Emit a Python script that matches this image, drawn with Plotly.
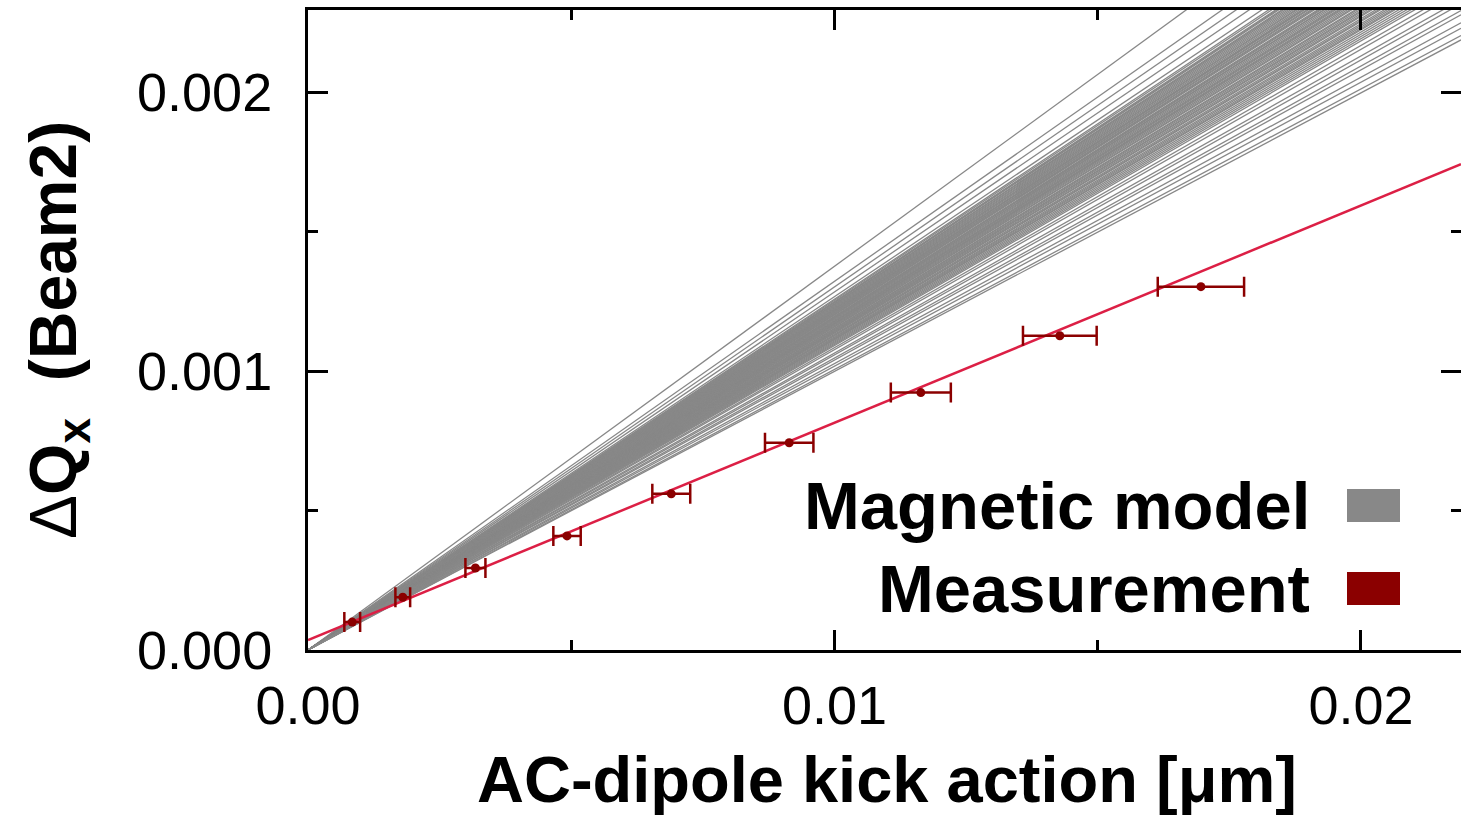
import plotly.graph_objects as go

# ---- data ----
meas_x = [0.00084, 0.00180, 0.00318, 0.00492, 0.00690, 0.00914, 0.01164, 0.01428, 0.01696]
meas_y = [0.000100, 0.000189, 0.000294, 0.000409, 0.000560, 0.000743, 0.000923, 0.001127, 0.001303]
meas_xerr = [0.00015, 0.00014, 0.00019, 0.00026, 0.00036, 0.00046, 0.00057, 0.00070, 0.00082]

fit_intercept = 0.0000359
fit_slope = 0.0779

model_slopes = [
    0.1376, 0.1322, 0.1302, 0.1284, 0.1267, 0.1258, 0.1254,
    0.1249, 0.1247, 0.1245, 0.1241, 0.1239, 0.1236, 0.1233, 0.1230,
    0.1227, 0.1224, 0.1222, 0.1219, 0.1216, 0.1214, 0.1213, 0.1210,
    0.1208, 0.1205, 0.1203, 0.1201, 0.1197, 0.1195, 0.1193, 0.1190,
    0.1189, 0.1186, 0.1183, 0.1180, 0.1178, 0.1176, 0.1173, 0.1171,
    0.1169, 0.1166, 0.1163, 0.1160, 0.1158, 0.1154, 0.1152, 0.1149,
    0.1146, 0.1144, 0.1141, 0.1138, 0.1136, 0.1132, 0.1129, 0.1127,
    0.1123, 0.1120, 0.1117, 0.1114, 0.1112, 0.1108, 0.1104, 0.1100,
    0.1096, 0.1092,
    0.1084, 0.1077, 0.1065, 0.1058, 0.1047, 0.1040, 0.1027,
    0.1018, 0.1006, 0.0999,
]

x_range = [0.0, 0.0219]
y_range = [0.0, 0.002295]

x_ticks = [0.0, 0.01, 0.02]
x_ticklabels = ["0.00", "0.01", "0.02"]
y_ticks = [0.0, 0.001, 0.002]
y_ticklabels = ["0.000", "0.001", "0.002"]

FONT = "Liberation Sans, Arial, sans-serif"
GRAY = "#888888"
CRIMSON = "#dc1f45"
DARKRED = "#8b0000"

fig = go.Figure()

# magnetic model lines (through origin)
gx, gy = [], []
for s in model_slopes:
    gx += [x_range[0], x_range[1], None]
    gy += [s * x_range[0], s * x_range[1], None]
fig.add_trace(go.Scatter(x=gx, y=gy, mode="lines",
                         line=dict(color=GRAY, width=1.3), showlegend=False,
                         hoverinfo="skip"))

# measurement fit line
fig.add_trace(go.Scatter(x=x_range,
                         y=[fit_intercept + fit_slope * v for v in x_range],
                         mode="lines", line=dict(color=CRIMSON, width=2.5),
                         showlegend=False))

# measurement points
fig.add_trace(go.Scatter(x=meas_x, y=meas_y, mode="markers",
                         marker=dict(color=DARKRED, size=9),
                         error_x=dict(type="data", array=meas_xerr, color=DARKRED,
                                      thickness=2.5, width=10),
                         showlegend=False))

# invisible trace to activate right-hand tick axis
fig.add_trace(go.Scatter(x=[x_range[0]], y=[y_range[0]], yaxis="y2", mode="markers",
                         marker=dict(opacity=0), showlegend=False, hoverinfo="skip"))

W, H = 1461, 822
L, R, T, B = 308, 0, 10, 172
pw, ph = W - L - R, H - T - B

def px2x(p):
    return (p - L) / pw

def px2y(p):
    return (H - B - p) / ph

fig.update_layout(
    width=W, height=H,
    margin=dict(l=L, r=R, t=T, b=B),
    paper_bgcolor="white", plot_bgcolor="white",
    font=dict(family=FONT, color="black"),
    xaxis=dict(range=x_range, tickvals=x_ticks, ticktext=x_ticklabels,
               ticks="inside", ticklen=20, tickwidth=3, tickcolor="black",
               minor=dict(dtick=0.005, ticks="inside", ticklen=10, tickwidth=3,
                          tickcolor="black"),
               showline=True, linewidth=3, linecolor="black", mirror="ticks",
               showgrid=False, zeroline=False, ticklabelstandoff=6,
               tickfont=dict(size=54, family=FONT)),
    yaxis=dict(range=y_range, tickvals=y_ticks, ticktext=y_ticklabels,
               ticks="inside", ticklen=20, tickwidth=3, tickcolor="black",
               minor=dict(dtick=0.0005, ticks="inside", ticklen=10, tickwidth=3,
                          tickcolor="black"),
               showline=True, linewidth=3, linecolor="black", mirror=False,
               showgrid=False, zeroline=False, ticklabelstandoff=22,
               tickfont=dict(size=54, family=FONT)),
    yaxis2=dict(range=y_range, overlaying="y", side="right", tickvals=y_ticks,
                showticklabels=False,
                ticks="inside", ticklen=20, tickwidth=3, tickcolor="black",
                minor=dict(dtick=0.0005, ticks="inside", ticklen=10, tickwidth=3,
                           tickcolor="black"),
                showline=False, showgrid=False, zeroline=False),
)

# axis titles
fig.add_annotation(text="<b>AC-dipole kick action [μm]</b>", xref="paper", yref="paper",
                   x=px2x(887), y=px2y(779), xanchor="center", yanchor="middle",
                   showarrow=False, font=dict(size=65, family=FONT, color="black"))
fig.add_annotation(text="Δ<b>Q<sub>x</sub>  (Beam2)</b>", xref="paper", yref="paper",
                   x=px2x(58), y=px2y(330), xanchor="center", yanchor="middle",
                   textangle=-90, showarrow=False,
                   font=dict(size=66, family=FONT, color="black"))

# legend (text right-aligned, key boxes on the right)
legend_items = [("Magnetic model", GRAY, 505), ("Measurement", DARKRED, 588)]
for label, col, yc in legend_items:
    fig.add_annotation(text="<b>" + label + "</b>", xref="paper", yref="paper",
                       x=px2x(1312), y=px2y(yc), xanchor="right", yanchor="middle",
                       showarrow=False, font=dict(size=67, family=FONT, color="black"))
    fig.add_shape(type="rect", xref="paper", yref="paper",
                  x0=px2x(1347), x1=px2x(1400), y0=px2y(yc - 16), y1=px2y(yc + 17),
                  fillcolor=col, line=dict(width=0))

fig.write_html("out.html", config={"displayModeBar": False},
               post_script="document.body.style.margin='0';"
                           "document.body.style.overflow='hidden';")
